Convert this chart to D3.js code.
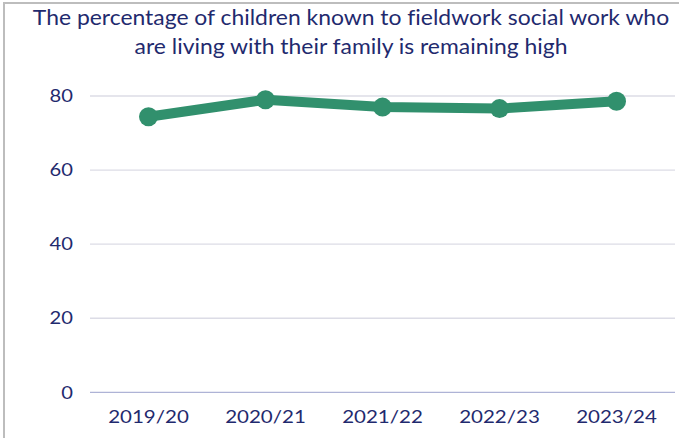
<!DOCTYPE html>
<html>
<head>
<meta charset="utf-8">
<script src="https://cdn.jsdelivr.net/npm/d3@7"></script>
<style>
  html, body { margin: 0; padding: 0; background: #fff; }
  svg { display: block; }
  text { font-variant-ligatures: none; }
</style>
</head>
<body>
<svg id="chart" width="679" height="438"></svg>
<script>
// Chart data
const years = ["2019/20", "2020/21", "2021/22", "2022/23", "2023/24"];
const livingWithFamily = [74.4, 79.0, 77.0, 76.6, 78.6];
const yTicks = [0, 20, 40, 60, 80];
const titleLines = [
  "The percentage of children known to fieldwork social work who",
  "are living with their family is remaining high"
];

const width = 679, height = 438;
const navy = "#1f2a6e";
const green = "#31906d";
const font = "Lato, 'Open Sans', sans-serif";

const svg = d3.select("#chart");

// Widen text glyphs horizontally by a factor
function widen(sel, factor) {
  sel.each(function () {
    const w = this.getComputedTextLength();
    d3.select(this)
      .attr("textLength", w * factor)
      .attr("lengthAdjust", "spacingAndGlyphs");
  });
}

// Frame on the left and top
svg.append("path")
  .attr("d", `M4,${height} V3 H${width}`)
  .attr("fill", "none")
  .attr("stroke", "#bdbdbd")
  .attr("stroke-width", 2);

// Title
const title = svg.append("g").selectAll("text")
  .data(titleLines)
  .join("text")
  .attr("x", 351)
  .attr("y", (d, i) => 25 + i * 28.5)
  .attr("text-anchor", "middle")
  .attr("font-family", font)
  .attr("font-size", 21)
  .attr("fill", navy)
  .text(d => d);
widen(title, 1.09);

const x = d3.scaleBand()
  .domain(years)
  .range([90, 675]);

const y = d3.scaleLinear()
  .domain([0, 80])
  .range([392.3, 96]);

// Gridlines
svg.append("g")
  .selectAll("line")
  .data(yTicks)
  .join("line")
  .attr("x1", x.range()[0])
  .attr("x2", x.range()[1])
  .attr("y1", d => y(d))
  .attr("y2", d => y(d))
  .attr("stroke", d => d === 0 ? "#aeb3d6" : "#dcdce6")
  .attr("stroke-width", 1.3);

// Y axis labels
const yAxis = svg.append("g")
  .attr("transform", "translate(73,0)")
  .call(d3.axisLeft(y).tickValues(yTicks).tickSize(0).tickPadding(0));
yAxis.select(".domain").remove();
yAxis.selectAll("text")
  .attr("font-family", font)
  .attr("font-size", 18)
  .attr("fill", navy);
widen(yAxis.selectAll("text"), 1.12);

// X axis labels
const xAxis = svg.append("g")
  .attr("transform", `translate(0,${y(0)})`)
  .call(d3.axisBottom(x).tickSize(0).tickPadding(18));
xAxis.select(".domain").remove();
xAxis.selectAll("text")
  .attr("font-family", font)
  .attr("font-size", 18)
  .attr("fill", navy)
  .attr("dy", "0.71em");
widen(xAxis.selectAll("text"), 1.14);

// Series line and markers
const pts = years.map((yr, i) => [x(yr) + x.bandwidth() / 2, y(livingWithFamily[i])]);

svg.append("path")
  .attr("d", d3.line()(pts))
  .attr("fill", "none")
  .attr("stroke", green)
  .attr("stroke-width", 10)
  .attr("stroke-linejoin", "round");

svg.append("g")
  .selectAll("circle")
  .data(pts)
  .join("circle")
  .attr("cx", d => d[0])
  .attr("cy", d => d[1])
  .attr("r", 9.5)
  .attr("fill", green);
</script>
</body>
</html>
